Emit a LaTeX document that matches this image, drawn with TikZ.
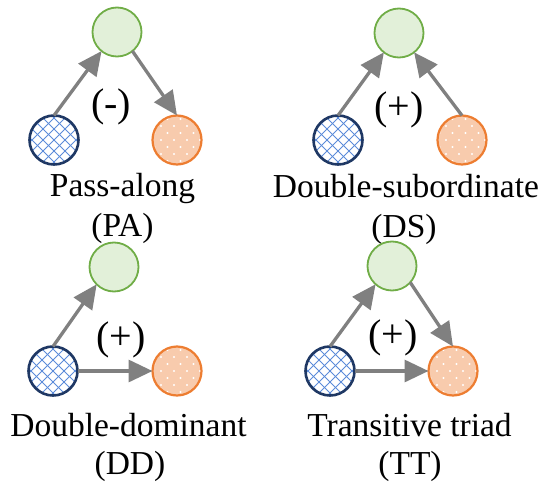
\documentclass[tikz,border=0pt]{standalone}
\usepackage{fontspec}
\setmainfont{Liberation Serif}
\usetikzlibrary{arrows.meta}
\definecolor{gfill}{HTML}{E2F0D9}
\definecolor{gdraw}{HTML}{70AD47}
\definecolor{ofill}{HTML}{F8CBAD}
\definecolor{odraw}{HTML}{ED7D31}
\definecolor{bdraw}{HTML}{1F3864}
\definecolor{bhatch}{HTML}{5B8BD9}
\definecolor{arrgray}{HTML}{808080}
\tikzset{
  gnode/.style={circle, draw=gdraw, fill=gfill, line width=1.8pt, minimum size=49pt, inner sep=0pt, outer sep=0pt},
  onode/.style={circle, draw=odraw, fill=ofill, line width=2.2pt, minimum size=49pt, inner sep=0pt, outer sep=0pt,
    path picture={
      \begin{scope}[shift={(path picture bounding box.center)}]
      \foreach \r in {-3,...,3} \foreach \c in {-2,...,2} {
        \fill[white] ({\c*13+mod(abs(\r),2)*6.5-3},{\r*7}) circle (1.2pt);
      }
      \end{scope}
    }},
  bnode/.style={circle, draw=bdraw, fill=white, line width=2.6pt, minimum size=49pt, inner sep=0pt, outer sep=0pt,
    path picture={
      \begin{scope}[shift={(path picture bounding box.center)}]
      \foreach \k in {-5,...,5} {
        \draw[bhatch, line width=0.75pt] (\k*11-30,-30) -- (\k*11+30,30);
        \draw[bhatch, line width=0.75pt] (\k*11-30,30) -- (\k*11+30,-30);
      }
      \end{scope}
    }},
  arr/.style={draw=arrgray, line width=3.3pt, -{Triangle[length=24pt,width=22pt]}},
  sign/.style={font=\fontsize{40}{44}\selectfont, inner sep=0pt},
  lbl/.style={font=\fontsize{33.5}{40}\selectfont, inner sep=0pt, anchor=base}
}
\begin{document}
\begin{tikzpicture}[x=1pt,y=-1pt]
\useasboundingbox (0,0) rectangle (547,482);
% Pass-along
\node[gnode] (pag) at (117,32) {};
\node[bnode] (pab) at (54,140) {};
\node[onode] (pao) at (177,140) {};
\draw[arr] (pab.north) -- (pag.231);
\draw[arr] (pag.-51) -- (pao.north);
\node[sign] (pas) at (111,107) {(-)};
\node[lbl] (pal1) at (122.5,196) {Pass-along};
\node[lbl] (pal2) at (122.5,236) {(PA)};
% Double-subordinate
\node[gnode] (dsg) at (399,33) {};
\node[bnode] (dsb) at (338,140) {};
\node[onode] (dso) at (462,140) {};
\draw[arr] (dsb.north) -- (dsg.232);
\draw[arr] (dso.north) -- (dsg.-52);
\node[sign] (dss) at (399,110) {(+)};
\node[lbl] (dsl1) at (406,197) {Double-subordinate};
\node[lbl] (dsl2) at (404,237) {(DS)};
% Double-dominant
\node[gnode] (ddg) at (114,267) {};
\node[bnode] (ddb) at (53,371) {};
\node[onode] (ddo) at (177,371) {};
\draw[arr] (ddb.north) -- (ddg.225);
\draw[arr] (ddb.east) -- (ddo.west);
\node[sign] (dds) at (121,340) {(+)};
\node[lbl] (ddl1) at (128.5,436) {Double-dominant};
\node[lbl] (ddl2) at (130,474.5) {(DD)};
% Transitive triad
\node[gnode] (ttg) at (392,266) {};
\node[bnode] (ttb) at (330,371) {};
\node[onode] (tto) at (453,371) {};
\draw[arr] (ttb.north) -- (ttg.228);
\draw[arr] (ttg.-42) -- (tto.north);
\draw[arr] (ttb.east) -- (tto.west);
\node[sign] (tts) at (393,338) {(+)};
\node[lbl] (ttl1) at (409.5,436) {Transitive triad};
\node[lbl] (ttl2) at (410,474.5) {(TT)};
\end{tikzpicture}
\end{document}
